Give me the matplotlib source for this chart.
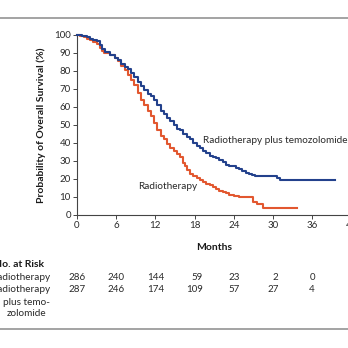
import matplotlib
matplotlib.use("Agg")
import matplotlib.pyplot as plt
from matplotlib.lines import Line2D
import matplotlib.transforms as mtransforms

plt.rcParams['font.family'] = ['Lato', 'DejaVu Sans']

# Kaplan-Meier curves (months, % surviving)
tmz_t = [0, 0.8, 1.5, 2.0, 2.5, 3.0, 3.5, 3.8, 4.3, 5.0, 5.8, 6.3, 6.8, 7.3, 7.8, 8.3,
         8.8, 9.3, 9.8, 10.3, 10.8, 11.3, 11.8, 12.3, 12.8, 13.3, 13.8, 14.3, 14.8,
         15.3, 15.8, 16.3, 16.8, 17.3, 17.8, 18.3, 18.8, 19.3, 19.8, 20.3, 20.8, 21.3,
         21.8, 22.3, 22.8, 23.3, 23.8, 24.3, 24.8, 25.3, 25.8, 26.3, 26.8, 27.3, 30.6,
         31.0, 39.5]
tmz_s = [100, 99.6, 99, 98, 97.5, 96.5, 94.5, 92, 90.5, 89, 87.5, 86, 84, 82, 81, 79,
         76.5, 74, 71.5, 69.5, 67.5, 66, 64, 61, 58, 56, 54, 52, 50,
         48, 47, 45, 43.5, 42, 40, 38.5, 37, 35.5, 34.5, 33, 32.5, 31.5,
         30.5, 29.5, 28, 27.5, 27, 26, 25.5, 24.5, 23.5, 23, 22.5, 21.8, 20.5,
         19.3, 19.3]

rt_t = [0, 0.5, 1.0, 1.5, 2.0, 2.5, 3.0, 3.5, 3.8, 4.2, 5.0, 5.8, 6.3, 6.8, 7.3, 7.8,
        8.3, 8.8, 9.3, 9.8, 10.3, 10.8, 11.3, 11.8, 12.3, 12.8, 13.3, 13.8, 14.3, 14.8,
        15.3, 15.8, 16.2, 16.5, 16.8, 17.3, 17.8, 18.3, 18.8, 19.3, 19.8, 20.3, 20.8,
        21.3, 21.8, 22.3, 22.8, 23.3, 24.0, 24.8, 26.5, 27.0, 27.5, 28.5, 33.7]
rt_s = [100, 99.5, 99, 98, 97, 96, 95, 93, 91, 90, 89, 87.5, 85.5, 83, 80.5, 78,
        75, 72, 68, 64, 61, 58, 55, 51, 47, 44, 42, 39.5, 37, 35.5,
        34, 32, 29, 27, 25, 23, 21.5, 20.5, 19.5, 18.5, 17, 16.5, 15.5,
        14.5, 13.5, 13, 12, 11.2, 10.8, 10.2, 9.8, 7.4, 5.9, 4.1, 4.1]

x_ticks = [0, 6, 12, 18, 24, 30, 36, 42]
y_ticks = [0, 10, 20, 30, 40, 50, 60, 70, 80, 90, 100]

risk_months = [0, 6, 12, 18, 24, 30, 36]
risk_rt = [286, 240, 144, 59, 23, 2, 0]
risk_tmz = [287, 246, 174, 109, 57, 27, 4]

BLUE = '#23418c'
RED = '#e2572f'
TXT = '#2a2a2a'
W = 348.0

fig = plt.figure(figsize=(3.48, 3.48), dpi=100)
ax = fig.add_axes([77 / W, 1 - 215 / W, 274.4 / W, 180 / W])

ax.step(tmz_t, tmz_s, where='post', color=BLUE, lw=1.5, clip_on=False, zorder=3)
ax.step(rt_t, rt_s, where='post', color=RED, lw=1.5, clip_on=False, zorder=2)

ax.set_xlim(0, 42)
ax.set_ylim(0, 100)
ax.set_xticks(x_ticks)
ax.set_yticks(y_ticks)
for s in ['top', 'right']:
    ax.spines[s].set_visible(False)
for s in ['left', 'bottom']:
    ax.spines[s].set_color('#444444')
    ax.spines[s].set_linewidth(0.8)
ax.tick_params(axis='both', length=3, width=0.7, color='#444444', labelsize=7.0,
               labelcolor=TXT, pad=1.5)

ax.set_ylabel('Probability of Overall Survival (%)', fontsize=7.5, fontweight='bold',
              color='#1a1a1a', labelpad=6)
ax.set_xlabel('Months', fontsize=7.5, fontweight='bold', color='#1a1a1a', labelpad=9)

ax.text(19.3, 41.3, 'Radiotherapy plus temozolomide', fontsize=7.2, color=TXT,
        ha='left', va='center')
ax.text(9.3, 15.6, 'Radiotherapy', fontsize=7.2, color=TXT, ha='left', va='center')

def fy(px):
    return 1 - px / W

fig.text(-6 / W, fy(264.3), 'No. at Risk', fontsize=7.5, fontweight='bold', color='#1a1a1a',
         ha='left', va='center')
fig.text(50 / W, fy(277.7), 'Radiotherapy', fontsize=7.2, color=TXT, ha='right', va='center')
fig.text(50 / W, fy(290), 'Radiotherapy', fontsize=7.2, color=TXT, ha='right', va='center')
fig.text(50 / W, fy(302.7), 'plus temo-', fontsize=7.2, color=TXT, ha='right', va='center')
fig.text(46 / W, fy(313.3), 'zolomide', fontsize=7.2, color=TXT, ha='right', va='center')

trans = mtransforms.blended_transform_factory(ax.transData, fig.transFigure)
fig.canvas.draw()
renderer = fig.canvas.get_renderer()
for m, a, b in zip(risk_months, risk_rt, risk_tmz):
    widths = []
    for v in (a, b):
        t = fig.text(0, 0, str(v), fontsize=7.0)
        widths.append(t.get_window_extent(renderer).width)
        t.remove()
    half = max(widths) / 2.0
    off = mtransforms.offset_copy(trans, fig=fig, x=half * 72 / fig.dpi, y=0, units='points')
    fig.text(m, fy(277.7), str(a), fontsize=7.0, color=TXT, ha='right', va='center', transform=off)
    fig.text(m, fy(290), str(b), fontsize=7.0, color=TXT, ha='right', va='center', transform=off)

fig.add_artist(Line2D([0, 1], [fy(18), fy(18)], transform=fig.transFigure, color='#8a8a8a', lw=1.1))
fig.add_artist(Line2D([0, 1], [fy(329), fy(329)], transform=fig.transFigure, color='#8a8a8a', lw=1.1))

fig.savefig('out.png', dpi=100)
